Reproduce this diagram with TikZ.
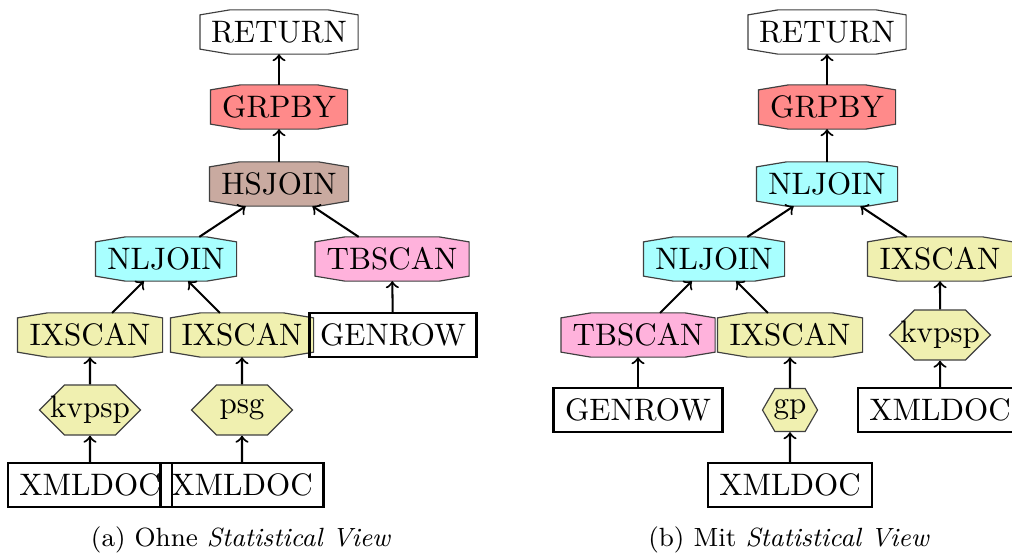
\documentclass[tikz,border=0pt]{standalone}
\usetikzlibrary{shapes.symbols}
\definecolor{grpcol}{RGB}{255,138,138}
\definecolor{hsjcol}{RGB}{201,170,160}
\definecolor{nljcol}{RGB}{168,255,255}
\definecolor{tbscol}{RGB}{255,178,220}
\definecolor{ixscol}{RGB}{240,240,176}
\makeatletter
\pgfdeclareshape{octagonbox}{%
  \inheritsavedanchors[from=rectangle]%
  \inheritanchorborder[from=rectangle]%
  \inheritanchor[from=rectangle]{center}%
  \inheritanchor[from=rectangle]{north}%
  \inheritanchor[from=rectangle]{south}%
  \inheritanchor[from=rectangle]{east}%
  \inheritanchor[from=rectangle]{west}%
  \inheritanchor[from=rectangle]{north east}%
  \inheritanchor[from=rectangle]{north west}%
  \inheritanchor[from=rectangle]{south east}%
  \inheritanchor[from=rectangle]{south west}%
  \backgroundpath{%
    \southwest \edef\octxa{\the\pgf@x}\edef\octya{\the\pgf@y}%
    \northeast \edef\octxb{\the\pgf@x}\edef\octyb{\the\pgf@y}%
    \pgfpathmoveto{\pgfpoint{\octxa}{\octya+1.7pt}}%
    \pgfpathlineto{\pgfpoint{\octxa}{\octyb-1.7pt}}%
    \pgfpathlineto{\pgfpoint{\octxa+10.2pt}{\octyb}}%
    \pgfpathlineto{\pgfpoint{\octxb-10.2pt}{\octyb}}%
    \pgfpathlineto{\pgfpoint{\octxb}{\octyb-1.7pt}}%
    \pgfpathlineto{\pgfpoint{\octxb}{\octya+1.7pt}}%
    \pgfpathlineto{\pgfpoint{\octxb-10.2pt}{\octya}}%
    \pgfpathlineto{\pgfpoint{\octxa+10.2pt}{\octya}}%
    \pgfpathclose
  }%
}
\makeatother
\begin{document}
\begin{tikzpicture}[x=0.3415pt,y=-0.3415pt,
  nodetext/.style={font=\fontsize{10.6}{12.5}\selectfont},
  oct/.style={nodetext, shape=octagonbox, inner sep=0pt, minimum height=14.7pt,
    draw=black!75, line width=0.4pt, fill=#1},
  hex/.style={nodetext, signal, signal to=west and east, signal pointer angle=90, inner xsep=-5pt, inner ysep=0pt,
    minimum height=17.1pt, minimum width=34.5pt, draw=black!75, line width=0.4pt, fill=ixscol},
  smallhex/.style={hex, signal pointer angle=120, inner xsep=-2pt, minimum height=14.7pt, minimum width=18.8pt},
  box/.style={nodetext, rectangle, draw=black, line width=0.8pt, inner sep=0pt, minimum height=14.9pt},
  wd/.style={minimum width=#1*0.3415pt},
  edge/.style={->, line width=0.7pt},
  captext/.style={font=\small}
]
\useasboundingbox (0,0) rectangle (1012,554);
% left tree
\node[oct=white, wd=157] (r1) at (279,32) {RETURN};
\node[oct=grpcol, wd=136] (g1) at (279,107) {GRPBY};
\node[oct=hsjcol, wd=138] (h1) at (279,184) {HSJOIN};
\node[oct=nljcol, wd=140] (n1) at (166,259) {NLJOIN};
\node[oct=tbscol, wd=153] (t1) at (392,259) {TBSCAN};
\node[oct=ixscol, wd=144] (i1) at (90,335) {IXSCAN};
\node[oct=ixscol, wd=142] (i2) at (242,335) {IXSCAN};
\node[box, wd=167] (gr1) at (393,335) {GENROW};
\node[hex] (k1) at (90,410) {kvpsp};
\node[hex] (p1) at (242,410) {psg};
\node[box, wd=164] (x1) at (90,485) {XMLDOC};
\node[box, wd=163] (x2) at (242,485) {XMLDOC};
\draw[edge] (g1) -- (r1);
\draw[edge] (h1) -- (g1);
\draw[edge] (n1) -- (h1);
\draw[edge] (t1) -- (h1);
\draw[edge] (i1) -- (n1);
\draw[edge] (i2) -- (n1);
\draw[edge] (gr1) -- (t1);
\draw[edge] (k1) -- (i1);
\draw[edge] (p1) -- (i2);
\draw[edge] (x1) -- (k1);
\draw[edge] (x2) -- (p1);
\node[captext] (c1) at (241,540) {(a) Ohne \textit{Statistical View}};
% right tree
\node[oct=white, wd=157] (r2) at (827,32) {RETURN};
\node[oct=grpcol, wd=136] (g2) at (827,107) {GRPBY};
\node[oct=nljcol, wd=140] (n2) at (827,184) {NLJOIN};
\node[oct=nljcol, wd=140] (n3) at (714,259) {NLJOIN};
\node[oct=ixscol, wd=144] (i3) at (940,259) {IXSCAN};
\node[oct=tbscol, wd=153] (t2) at (638,335) {TBSCAN};
\node[oct=ixscol, wd=144] (i4) at (790,335) {IXSCAN};
\node[hex] (k2) at (940,335) {kvpsp};
\node[box, wd=169] (gr2) at (638,410) {GENROW};
\node[smallhex] (gp) at (790,410) {gp};
\node[box, wd=164] (x3) at (940,410) {XMLDOC};
\node[box, wd=164] (x4) at (790,485) {XMLDOC};
\draw[edge] (g2) -- (r2);
\draw[edge] (n2) -- (g2);
\draw[edge] (n3) -- (n2);
\draw[edge] (i3) -- (n2);
\draw[edge] (t2) -- (n3);
\draw[edge] (i4) -- (n3);
\draw[edge] (k2) -- (i3);
\draw[edge] (gr2) -- (t2);
\draw[edge] (gp) -- (i4);
\draw[edge] (x3) -- (k2);
\draw[edge] (x4) -- (gp);
\node[captext] (c2) at (789,540) {(b) Mit \textit{Statistical View}};
\end{tikzpicture}
\end{document}
